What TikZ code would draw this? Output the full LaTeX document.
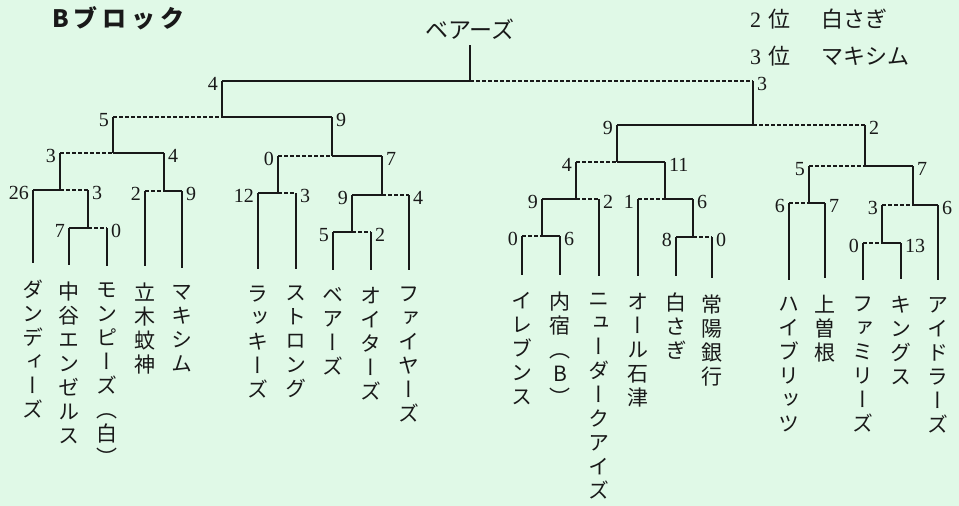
\documentclass[tikz,border=0pt]{standalone}
\usepackage{fontspec}
\newfontfamily\jfont{Noto Sans CJK JP}
\newfontfamily\tatefont[RawFeature=+vert]{Noto Sans CJK JP}
\newfontfamily\numfont{Liberation Serif}
\usetikzlibrary{positioning}

\definecolor{paper}{RGB}{224,249,231}
\definecolor{ink}{RGB}{25,25,25}

% stack the characters of a name one below the other
\makeatletter
\newcommand\tate[1]{\tate@step#1\@nil}
\def\tate@step#1#2\@nil{#1\ifx\relax#2\relax\else\\\tate@step#2\@nil\fi}
\makeatother
\newcommand\digit[1]{{\numfont #1}}

\tikzset{
  win/.style={draw=ink, line width=1.4pt},
  lose/.style={draw=ink, line width=1.4pt, dash pattern=on 3.5pt off 2.5pt},
  link/.style={draw=ink, line width=1.4pt},
  score/.style={inner sep=0pt, text=ink, font=\numfont\fontsize{20}{20}\selectfont},
  team/.style={anchor=north, inner sep=0pt, outer ysep=17pt, align=center, text=ink,
    font=\tatefont\fontsize{21}{24}\selectfont},
  jtext/.style={inner sep=0pt, text=ink, font=\jfont\fontsize{23}{23}\selectfont},
  blocktitle/.style={inner sep=0pt, text=ink,
    font=\jfont\bfseries\fontsize{24}{24}\selectfont\addfontfeature{LetterSpace=20}},
  rank/.style={inner sep=0pt, align=left, text=ink, font=\jfont\fontsize{22}{37}\selectfont},
}

\begin{document}
\begin{tikzpicture}[x=1pt,y=-1pt]
\useasboundingbox (0,0) rectangle (959,506);
\fill[paper] (0,0) rectangle (959,506);

\node[blocktitle, anchor=west] (block) at (52,18) {Bブロック};
\node[rank, anchor=north west] (rank) at (750,9)
  {\digit{2}\hspace{0.35em}位\hspace{1.4em}白さぎ\\ \digit{3}\hspace{0.35em}位\hspace{1.4em}マキシム};
\node[jtext] (champ) at (470,29) {ベアーズ};

% matches: name / left end / junction / right end / height / scores / halves
\foreach \m/\xl/\xj/\xr/\y/\a/\b/\ls/\rs in {
  F/222/470/753/81/4/3/win/lose,
  SL/113/222/332/117/5/9/lose/win,
  SR/617/753/865/125/9/2/win/lose,
  Q1/60/113/164/153/3/4/lose/win,
  Q2/278/332/382/156/0/7/lose/win,
  Q3/576/617/665/162/4/11/lose/win,
  Q4/809/865/913/166/5/7/lose/win,
  R1/33/60/88/190/26/3/win/lose,
  R1b/69/88/107/228/7/0/win/lose,
  R2/145/164/182/191/2/9/lose/win,
  R3/258/278/296/193/12/3/win/lose,
  R4/352/382/409/195/9/4/win/lose,
  R4b/333/352/371/232/5/2/win/lose,
  R5/542/576/599/199/9/2/win/lose,
  R5b/522/542/560/236/0/6/lose/win,
  R6/638/665/693/199/1/6/lose/win,
  R6b/676/693/712/237/8/0/win/lose,
  R7/789/809/825/203/6/7/lose/win,
  R8/882/913/938/205/3/6/lose/win,
  R8b/863/882/901/243/0/13/lose/win}{
  \coordinate (\m-l) at (\xl,\y);
  \coordinate (\m) at (\xj,\y);
  \coordinate (\m-r) at (\xr,\y);
  \draw[\ls] (\m-l) -- (\m);
  \draw[\rs] (\m) -- (\m-r);
  \node[score, left=4pt of \m-l, yshift=-3pt] (\m-a) {\a};
  \node[score, right=4pt of \m-r, yshift=-3pt] (\m-b) {\b};
}

% teams
\node[team] (dandy) at (33,263) {\tate{ダンディーズ}};
\node[team] (nakaya) at (69,265) {\tate{中谷エンゼルス}};
\node[team] (monpi) at (107,266) {\tate{モンピーズ（白）}};
\node[team] (tachiki) at (145,266) {\tate{立木蚊神}};
\node[team] (maxim) at (182,268) {\tate{マキシム}};
\node[team] (lucky) at (258,269) {\tate{ラッキーズ}};
\node[team] (strong) at (296,269) {\tate{ストロング}};
\node[team] (bears) at (333,270) {\tate{ベアーズ}};
\node[team] (oiters) at (371,270) {\tate{オイターズ}};
\node[team] (fires) at (409,270) {\tate{ファイヤーズ}};
\node[team] (eleven) at (522,275) {\tate{イレブンス}};
\node[team] (uchi) at (560,275) {\tate{内宿（B）}};
\node[team] (newdark) at (599,276) {\tate{ニューダークアイズ}};
\node[team] (allish) at (638,276) {\tate{オール石津}};
\node[team] (shirasagi) at (676,276) {\tate{白さぎ}};
\node[team] (joyo) at (712,278) {\tate{常陽銀行}};
\node[team] (hybrits) at (789,280) {\tate{ハイブリッツ}};
\node[team] (kamisone) at (825,278) {\tate{上曽根}};
\node[team] (family) at (863,280) {\tate{ファミリーズ}};
\node[team] (kings) at (901,279) {\tate{キングス}};
\node[team] (idlers) at (938,280) {\tate{アイドラーズ}};

% winners go up the tree
\draw[link] ([yshift=-6pt]champ.south) -- (F);
\foreach \p/\c in {F-l/SL, F-r/SR, SL-l/Q1, SL-r/Q2, SR-l/Q3, SR-r/Q4,
  Q1-l/R1, Q1-r/R2, Q2-l/R3, Q2-r/R4, Q3-l/R5, Q3-r/R6, Q4-l/R7, Q4-r/R8,
  R1-r/R1b, R4-l/R4b, R5-l/R5b, R6-r/R6b, R8-l/R8b}
  \draw[link] (\p) -- (\c);
\foreach \p/\t in {R1-l/dandy, R1b-l/nakaya, R1b-r/monpi, R2-l/tachiki, R2-r/maxim,
  R3-l/lucky, R3-r/strong, R4b-l/bears, R4b-r/oiters, R4-r/fires,
  R5b-l/eleven, R5b-r/uchi, R5-r/newdark, R6-l/allish, R6b-l/shirasagi, R6b-r/joyo,
  R7-l/hybrits, R7-r/kamisone, R8b-l/family, R8b-r/kings, R8-r/idlers}
  \draw[link] (\p) -- (\t.north);

\end{tikzpicture}
\end{document}
